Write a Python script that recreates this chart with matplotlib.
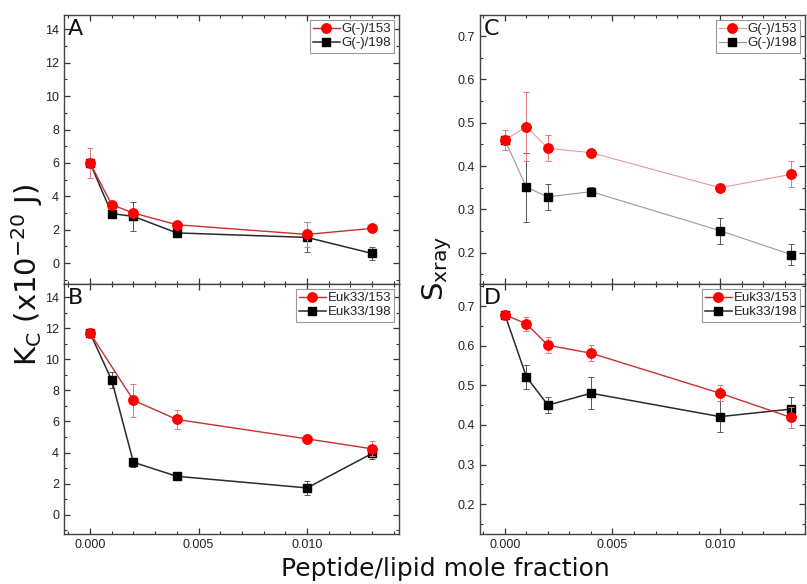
import matplotlib
matplotlib.use("Agg")
import matplotlib.pyplot as plt
from matplotlib.ticker import MultipleLocator

plt.rcParams['font.family'] = ['Liberation Sans', 'DejaVu Sans']
plt.rcParams['mathtext.default'] = 'regular'

# ---------------- data ----------------
x_left = [0.0, 0.001, 0.002, 0.004, 0.010, 0.013]
x_right = [0.0, 0.001, 0.002, 0.004, 0.010, 0.0133]

# Panel A: Kc, G(-)
a153 = [6.0, 3.5, 3.0, 2.3, 1.72, 2.08]
a153_err = [0.9, 0.2, 0.2, 0.15, 0.77, 0.1]
a198 = [6.0, 2.97, 2.8, 1.81, 1.54, 0.58]
a198_err = [0.2, 0.15, 0.85, 0.25, 0.9, 0.4]

# Panel B: Kc, Euk33 (153 has no 0.001 point)
b153_x = [0.0, 0.002, 0.004, 0.010, 0.013]
b153 = [11.7, 7.37, 6.13, 4.88, 4.24]
b153_err = [0.25, 1.05, 0.6, 0.15, 0.48]
b198 = [11.7, 8.66, 3.37, 2.47, 1.72, 3.94]
b198_err = [0.15, 0.5, 0.3, 0.2, 0.43, 0.35]

# Panel C: Sxray, G(-)
c153 = [0.46, 0.491, 0.441, 0.431, 0.350, 0.381]
c153_err = [0.024, 0.08, 0.03, 0.008, 0.008, 0.03]
c198 = [0.46, 0.351, 0.329, 0.341, 0.251, 0.196]
c198_err = [0.01, 0.08, 0.03, 0.01, 0.03, 0.025]

# Panel D: Sxray, Euk33
d153 = [0.678, 0.655, 0.601, 0.581, 0.480, 0.419]
d153_err = [0.005, 0.018, 0.02, 0.02, 0.02, 0.027]
d198 = [0.678, 0.521, 0.450, 0.480, 0.421, 0.440]
d198_err = [0.005, 0.03, 0.02, 0.04, 0.04, 0.03]

labels_g = ['G(-)/153', 'G(-)/198']
labels_e = ['Euk33/153', 'Euk33/198']
panel_letters = ['A', 'B', 'C', 'D']

# ---------------- figure ----------------
W, H = 807, 584
fig = plt.figure(figsize=(W / 100, H / 100), dpi=100)

def rect(x0, y0, x1, y1):
    return [x0 / W, 1 - y1 / H, (x1 - x0) / W, (y1 - y0) / H]

axA = fig.add_axes(rect(64, 15, 399, 284))
axB = fig.add_axes(rect(64, 284, 399, 534))
axC = fig.add_axes(rect(480, 15, 805, 284))
axD = fig.add_axes(rect(480, 284, 805, 534))

RED = '#ff0000'
RED_LINE = '#c83030'
RED_ERR = '#e07a7a'
BLK = '#000000'
BLK_LINE = '#2a2a2a'
BLK_ERR = '#555555'

def plot_series(ax, x, y, e, kind, faint=False):
    if kind == 'red':
        lc = '#e59a9a' if faint else RED_LINE
        lw = 0.8 if faint else 1.0
        return ax.errorbar(x, y, yerr=e, color=lc, lw=lw, marker='o', ms=6.8,
                           mfc=RED, mec=RED, ecolor=RED_ERR, elinewidth=0.7,
                           capsize=2.5, capthick=0.7, zorder=3)
    else:
        lc = '#999999' if faint else BLK_LINE
        lw = 0.8 if faint else 1.1
        return ax.errorbar(x, y, yerr=e, color=lc, lw=lw, marker='s', ms=5.6,
                           mfc=BLK, mec=BLK, ecolor=BLK_ERR, elinewidth=0.7,
                           capsize=2.5, capthick=0.7, zorder=2)

hA1 = plot_series(axA, x_left, a153, a153_err, 'red')
hA2 = plot_series(axA, x_left, a198, a198_err, 'blk')
hB1 = plot_series(axB, b153_x, b153, b153_err, 'red')
hB2 = plot_series(axB, x_left, b198, b198_err, 'blk')
hC1 = plot_series(axC, x_right, c153, c153_err, 'red', faint=True)
hC2 = plot_series(axC, x_right, c198, c198_err, 'blk', faint=True)
hD1 = plot_series(axD, x_right, d153, d153_err, 'red')
hD2 = plot_series(axD, x_right, d198, d198_err, 'blk')

for ax in (axA, axB):
    ax.set_xlim(-0.0012, 0.01424)
    ax.set_ylim(-1.25, 14.86)
    ax.yaxis.set_major_locator(MultipleLocator(2))
    ax.yaxis.set_minor_locator(MultipleLocator(1))
for ax in (axC, axD):
    ax.set_xlim(-0.00116, 0.01395)
for ax, lim in ((axC, (0.128, 0.7485)), (axD, (0.125, 0.7555))):
    ax.set_ylim(*lim)
    ax.yaxis.set_major_locator(MultipleLocator(0.1))
    ax.yaxis.set_minor_locator(MultipleLocator(0.05))

for ax in (axA, axB, axC, axD):
    ax.xaxis.set_major_locator(MultipleLocator(0.005))
    ax.xaxis.set_minor_locator(MultipleLocator(0.001))
    ax.tick_params(which='both', direction='in', top=True, right=True,
                   labelsize=9, colors='#333333', labelcolor='#222222')
    ax.tick_params(which='major', length=4.5, width=0.9)
    ax.tick_params(which='minor', length=2.5, width=0.8)
    for s in ax.spines.values():
        s.set_color('#444444')
        s.set_linewidth(1.0)

for ax in (axA, axC):
    ax.tick_params(labelbottom=False)

axB.xaxis.set_major_formatter(plt.FuncFormatter(lambda v, p: f'{v:.3f}'))
axD.xaxis.set_major_formatter(plt.FuncFormatter(lambda v, p: f'{v:.3f}'))
axC.yaxis.set_major_formatter(plt.FuncFormatter(lambda v, p: f'{v:.1f}'))
axD.yaxis.set_major_formatter(plt.FuncFormatter(lambda v, p: f'{v:.1f}'))

leg_kw = dict(loc='upper right', fontsize=9.5, frameon=True, fancybox=False,
              edgecolor='#9a9a9a', framealpha=1, borderpad=0.25,
              labelspacing=0.15, handletextpad=0.15, handlelength=2.0,
              borderaxespad=0.35)
for ax, hs, labs in ((axA, (hA1, hA2), labels_g), (axB, (hB1, hB2), labels_e),
                     (axC, (hC1, hC2), labels_g), (axD, (hD1, hD2), labels_e)):
    lines = [h[0] for h in hs]
    lg = ax.legend(lines, labs, **leg_kw)
    lg.get_frame().set_linewidth(0.8)
    for t in lg.get_texts():
        t.set_color('#222222')

for ax, letter in zip((axA, axB, axC, axD), panel_letters):
    ax.text(0.012, 0.985, letter, transform=ax.transAxes, ha='left', va='top',
            fontsize=16, family='DejaVu Sans', color='#111111')

fig.text(27 / W, 1 - 275 / H, r'K$_{\mathrm{C}}$ (x10$^{\mathrm{-20}}$ J)',
         rotation=90, ha='center', va='center', fontsize=21,
         family='DejaVu Sans', color='#111111')
fig.text(437 / W, 1 - 268 / H, r'S$_{\mathrm{xray}}$',
         rotation=90, ha='center', va='center', fontsize=21,
         family='DejaVu Sans', color='#111111')
fig.text(445 / W, 1 - 569 / H, 'Peptide/lipid mole fraction',
         ha='center', va='center', fontsize=18, family='DejaVu Sans',
         color='#111111')

fig.savefig('out.png', dpi=100)
